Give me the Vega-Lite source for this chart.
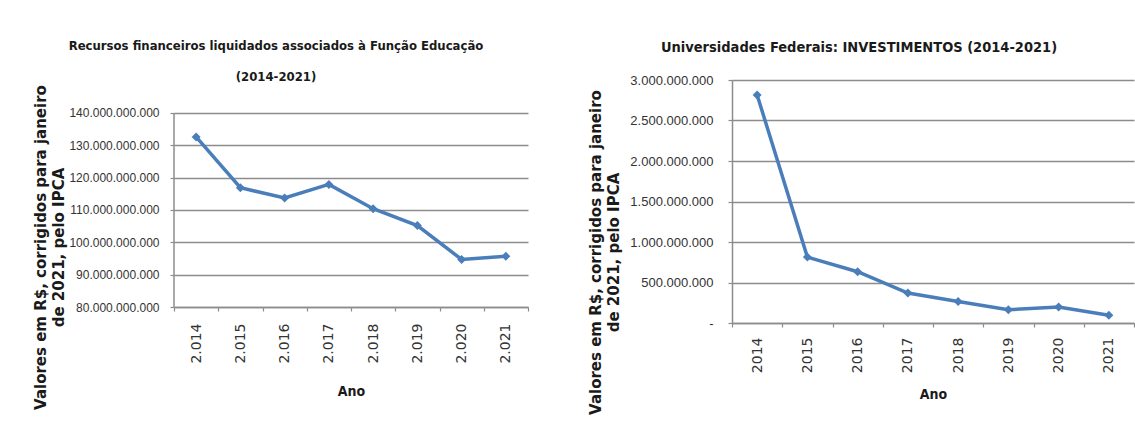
{
  "$schema": "https://vega.github.io/schema/vega-lite/v6.json",
  "background": "white",
  "padding": {"left": 33, "top": 39, "right": 0, "bottom": 0},
  "datasets": {
    "educacao": [
      {"ano": 2014, "valor": 132600000000},
      {"ano": 2015, "valor": 116900000000},
      {"ano": 2016, "valor": 113700000000},
      {"ano": 2017, "valor": 117900000000},
      {"ano": 2018, "valor": 110400000000},
      {"ano": 2019, "valor": 105200000000},
      {"ano": 2020, "valor": 94700000000},
      {"ano": 2021, "valor": 95700000000}
    ],
    "investimentos": [
      {"ano": 2014, "valor": 2815000000},
      {"ano": 2015, "valor": 814000000},
      {"ano": 2016, "valor": 633000000},
      {"ano": 2017, "valor": 370000000},
      {"ano": 2018, "valor": 266000000},
      {"ano": 2019, "valor": 164000000},
      {"ano": 2020, "valor": 197000000},
      {"ano": 2021, "valor": 95000000}
    ],
    "eixo": [
      {"ano": 2014, "valor": 80000000000, "fim": 140000000000}
    ]
  },
  "config": {
    "view": {"stroke": null},
    "axis": {
      "domainColor": "#8c8c8c",
      "domainWidth": 1.5,
      "tickColor": "#8c8c8c",
      "tickWidth": 1.2,
      "tickSize": 4,
      "gridColor": "#8c8c8c",
      "gridWidth": 1.5,
      "labelColor": "#333333",
      "titleColor": "#1a1a1a"
    },
    "title": {
      "font": "Liberation Sans Narrow, DejaVu Sans Condensed, Liberation Sans, sans-serif",
      "fontWeight": "bold",
      "color": "#1a1a1a",
      "anchor": "middle",
      "frame": "group"
    }
  },
  "hconcat": [
    {
      "width": 354,
      "height": 227,
      "title": {
        "text": ["Recursos financeiros liquidados associados à Função Educação", "(2014-2021)"],
        "fontSize": 13,
        "lineHeight": 31,
        "offset": -4,
        "dx": -75
      },
      "encoding": {
        "x": {
          "field": "ano",
          "type": "ordinal",
          "bandPosition": 0.5,
          "scale": {"type": "band", "paddingInner": 0, "paddingOuter": 0},
          "axis": {
            "title": "Ano",
            "titleFont": "Liberation Sans Narrow, DejaVu Sans Condensed, Liberation Sans, sans-serif",
            "titleFontSize": 14,
            "titleFontWeight": "bold",
            "titlePadding": 21,
            "labelAngle": -90,
            "labelFont": "DejaVu Sans",
            "labelFontSize": 14,
            "labelPadding": 12,
            "tickBand": "extent",
            "grid": false,
            "labelExpr": "datum.label ? substring(datum.label, 0, 1) + '.' + substring(datum.label, 1) : ''"
          }
        },
        "y": {
          "field": "valor",
          "type": "quantitative",
          "scale": {"domain": [80000000000, 150200000000], "nice": false, "zero": false},
          "axis": {
            "title": ["Valores em R$, corrigidos para janeiro", "de 2021, pelo IPCA"],
            "titleFont": "DejaVu Sans",
            "titleFontSize": 15,
            "titleFontWeight": "bold",
            "titleLineHeight": 18,
            "titlePadding": 2,
            "titleY": 167,
            "domain": false,
            "values": [80000000000, 90000000000, 100000000000, 110000000000, 120000000000, 130000000000, 140000000000],
            "labelFont": "Liberation Sans",
            "labelFontSize": 12,
            "labelPadding": 11,
            "labelOverlap": false,
            "grid": true,
            "labelExpr": "replace(format(datum.value, ','), /,/g, '.')"
          }
        }
      },
      "layer": [
        {
          "data": {"name": "eixo"},
          "mark": {"type": "rule", "color": "#8c8c8c", "strokeWidth": 1.5},
          "encoding": {
            "x": {"field": "ano", "type": "ordinal", "bandPosition": 0},
            "y2": {"field": "fim"}
          }
        },
        {
          "data": {"name": "educacao"},
          "mark": {"type": "line", "color": "#4a7ebb", "strokeWidth": 3.5}
        },
        {
          "data": {"name": "educacao"},
          "mark": {"type": "point", "shape": "diamond", "filled": true, "color": "#4a7ebb", "opacity": 1, "size": 80}
        }
      ]
    },
    {
      "data": {"name": "investimentos"},
      "width": 402,
      "height": 243,
      "title": {
        "text": "Universidades Federais: INVESTIMENTOS (2014-2021)",
        "fontSize": 14.5,
        "offset": 19,
        "dx": -74
      },
      "encoding": {
        "x": {
          "field": "ano",
          "type": "ordinal",
          "bandPosition": 0.5,
          "scale": {"type": "band", "paddingInner": 0, "paddingOuter": 0},
          "axis": {
            "title": "Ano",
            "titleFont": "Liberation Sans Narrow, DejaVu Sans Condensed, Liberation Sans, sans-serif",
            "titleFontSize": 14,
            "titleFontWeight": "bold",
            "titlePadding": 15,
            "labelAngle": -90,
            "labelFont": "DejaVu Sans",
            "labelFontSize": 14,
            "labelPadding": 10,
            "tickBand": "extent",
            "grid": false,
            "labelExpr": "datum.label ? datum.label : ''"
          }
        },
        "y": {
          "field": "valor",
          "type": "quantitative",
          "scale": {"domain": [0, 3000000000], "nice": false},
          "axis": {
            "title": ["Valores em R$, corrigidos para janeiro", "de 2021, pelo IPCA"],
            "titleFont": "DejaVu Sans",
            "titleFontSize": 15,
            "titleFontWeight": "bold",
            "titleLineHeight": 18,
            "titlePadding": 8,
            "titleY": 172,
            "values": [0, 500000000, 1000000000, 1500000000, 2000000000, 2500000000, 3000000000],
            "labelFont": "Liberation Sans",
            "labelFontSize": 13,
            "labelPadding": 15,
            "labelOverlap": false,
            "grid": true,
            "labelExpr": "datum.value == 0 ? '-' : replace(format(datum.value, ','), /,/g, '.')"
          }
        }
      },
      "layer": [
        {"mark": {"type": "line", "color": "#4a7ebb", "strokeWidth": 3.5}},
        {"mark": {"type": "point", "shape": "diamond", "filled": true, "color": "#4a7ebb", "opacity": 1, "size": 80}}
      ]
    }
  ],
  "spacing": 59
}
